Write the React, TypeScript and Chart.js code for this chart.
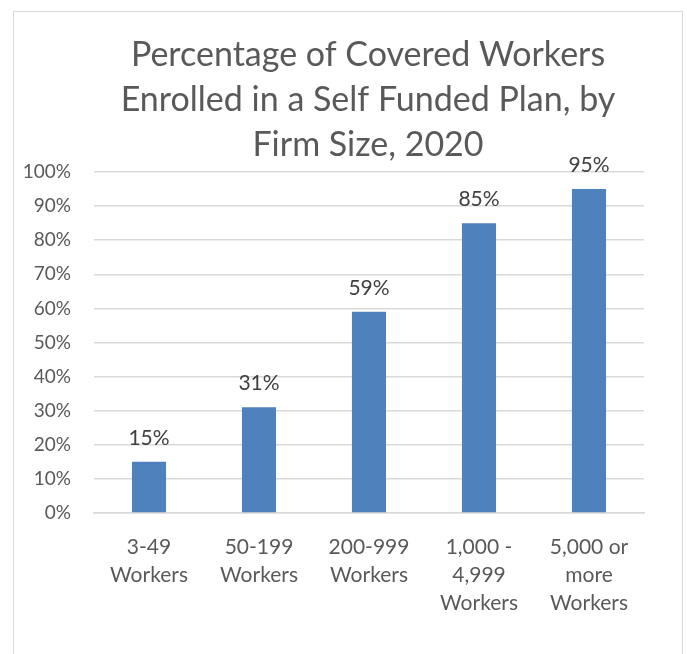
import React, { useEffect, useRef } from "react";
import { Chart, registerables } from "chart.js";

Chart.register(...registerables);

const titleLines = ["Percentage of Covered Workers", "Enrolled in a Self Funded Plan, by", "Firm Size, 2020"];
const categories: string[][] = [
  ["3-49", "Workers"],
  ["50-199", "Workers"],
  ["200-999", "Workers"],
  ["1,000 -", "4,999", "Workers"],
  ["5,000 or", "more", "Workers"],
];
const values = [15, 31, 59, 85, 95];
const yMin = 0;
const yMax = 100;
const yStep = 10;

const FONT = "Lato, 'Noto Sans', sans-serif";

const valueLabels = {
  id: "valueLabels",
  afterDatasetsDraw(chart: any) {
    const { ctx } = chart;
    const meta = chart.getDatasetMeta(0);
    const data = chart.data.datasets[0].data as number[];
    ctx.save();
    ctx.font = `21px ${FONT}`;
    ctx.fillStyle = "#404040";
    ctx.textAlign = "center";
    ctx.textBaseline = "alphabetic";
    meta.data.forEach((bar: any, i: number) => {
      ctx.fillText(`${data[i]}%`, bar.x, bar.y - 17);
    });
    ctx.restore();
  },
};

const titleDraw = {
  id: "titleDraw",
  afterDraw(chart: any) {
    const { ctx } = chart;
    ctx.save();
    ctx.font = `34px ${FONT}`;
    ctx.fillStyle = "#595959";
    ctx.textAlign = "center";
    ctx.textBaseline = "middle";
    titleLines.forEach((line, i) => {
      ctx.fillText(line, 368, 55 + i * 45);
    });
    ctx.restore();
  },
};

export default function App() {
  const ref = useRef<HTMLCanvasElement | null>(null);
  useEffect(() => {
    if (!ref.current) return;
    const chart = new Chart(ref.current, {
      type: "bar",
      data: {
        labels: categories,
        datasets: [
          {
            data: values,
            backgroundColor: "#4F81BD",
            borderWidth: 0,
            barPercentage: 0.31,
            categoryPercentage: 1,
          },
        ],
      },
      options: {
        animation: false,
        responsive: false,
        maintainAspectRatio: false,
        layout: { padding: { left: 0, right: 43, top: 172, bottom: 37 } },
        plugins: {
          legend: { display: false },
          tooltip: { enabled: false },
          title: { display: false },
        },
        scales: {
          x: {
            grid: { display: false, drawTicks: false },
            border: { display: true, color: "#d9d9d9", width: 1.5 },
            ticks: {
              color: "#595959",
              font: { family: FONT, size: 21, lineHeight: 1.33 },
              padding: 20,
              maxRotation: 0,
              autoSkip: false,
            },
            afterFit: (scale: any) => {
              scale.height = 104;
            },
          },
          y: {
            min: yMin,
            max: yMax,
            grid: { color: "#d9d9d9", lineWidth: 1.5, drawTicks: false },
            border: { display: false },
            ticks: {
              stepSize: yStep,
              color: "#595959",
              font: { family: FONT, size: 19 },
              padding: 23,
              callback: (v: any) => `${v}%`,
            },
            afterFit: (scale: any) => {
              scale.width = 94;
            },
          },
        },
      },
      plugins: [valueLabels, titleDraw],
    });
    return () => chart.destroy();
  }, []);
  return (
    <div style={{ position: "absolute", left: 0, top: 0, width: 687, height: 654, background: "#fff", overflow: "hidden" }}>
      <div
        style={{
          position: "absolute",
          left: 13,
          top: 11,
          width: 670,
          height: 700,
          border: "1.5px solid #d9d9d9",
          boxSizing: "border-box",
        }}
      />
      <canvas ref={ref} width={687} height={654} style={{ position: "absolute", left: 0, top: 0, width: 687, height: 654 }} />
    </div>
  );
}
